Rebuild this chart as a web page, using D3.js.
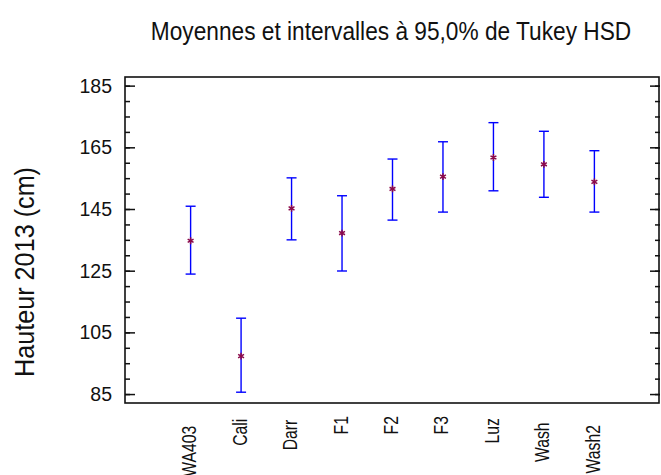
<!doctype html>
<html lang="fr">
<head>
<meta charset="UTF-8">
<title>Tukey HSD</title>
<script src="https://d3js.org/d3.v7.min.js"></script>
<style>
  body { margin: 0; background: #fff; }
  text { font-family: "Liberation Sans", Arial, sans-serif; fill: #111; }
</style>
</head>
<body>
<div class="canvas"></div>
<script>
  // valeurs
  const groups = ['WA403', 'Cali', 'Darr', 'F1', 'F2', 'F3', 'Luz', 'Wash', 'Wash2'];
  const means = [134.7, 97.3, 145.2, 137.2, 151.5, 155.5, 161.7, 159.5, 153.8];
  const lower = [123.9, 85.6, 135.0, 124.9, 141.4, 144.0, 150.9, 148.8, 144.0];
  const upper = [145.9, 109.6, 155.1, 149.3, 161.2, 166.8, 173.0, 170.2, 163.9];
  const yTicks = [85, 105, 125, 145, 165, 185];

  const width = 661, height = 475;
  const plotLeft = 125, plotRight = 660, plotTop = 77, plotBottom = 403;

  const svg = d3.select('.canvas').append('svg')
    .attr('width', width)
    .attr('height', height);

  const x = d3.scalePoint()
    .domain(groups)
    .range([plotLeft, plotRight])
    .padding(1.3);

  const y = d3.scaleLinear()
    .domain([82.1, 187.8])
    .range([plotBottom, plotTop]);

  // titre (police étroite simulée par un scale horizontal)
  svg.append('text')
    .attr('transform', 'translate(391,40) scale(0.89,1)')
    .attr('text-anchor', 'middle')
    .attr('font-size', '25.5px')
    .text('Moyennes et intervalles à 95,0% de Tukey HSD');

  // axe gauche (ticks vers l'intérieur)
  const minor = d3.range(85, 188, 5);
  svg.append('g')
    .attr('transform', `translate(${plotLeft},0)`)
    .call(d3.axisRight(y).tickValues(minor).tickSize(5).tickFormat(''))
    .call(g => g.select('.domain').remove());
  svg.append('g')
    .attr('transform', `translate(${plotLeft},0)`)
    .call(d3.axisRight(y).tickValues(yTicks).tickSize(10).tickFormat(''))
    .call(g => g.select('.domain').remove());
  svg.append('g')
    .selectAll('text')
    .data(yTicks)
    .join('text')
    .attr('x', 112)
    .attr('y', d => y(d))
    .attr('dy', '0.36em')
    .attr('text-anchor', 'end')
    .attr('font-size', '19.5px')
    .text(d => d);

  // axe droit
  svg.append('g')
    .attr('transform', `translate(${plotRight},0)`)
    .call(d3.axisLeft(y).tickValues(minor).tickSize(5).tickFormat(''))
    .call(g => g.select('.domain').remove());
  svg.append('g')
    .attr('transform', `translate(${plotRight},0)`)
    .call(d3.axisLeft(y).tickValues(yTicks).tickSize(10).tickFormat(''))
    .call(g => g.select('.domain').remove());

  svg.selectAll('.tick line').attr('stroke', '#111').attr('stroke-width', 1.5);

  // cadre
  svg.append('rect')
    .attr('x', plotLeft)
    .attr('y', plotTop)
    .attr('width', plotRight - plotLeft - 1)
    .attr('height', plotBottom - plotTop)
    .attr('fill', 'none')
    .attr('stroke', '#111')
    .attr('stroke-width', 1.6);

  // libellés des groupes
  const sx = 0.75;
  svg.append('g')
    .selectAll('text')
    .data(groups)
    .join('text')
    .attr('font-size', '21px')
    .attr('text-anchor', 'end')
    .text(d => d)
    .each(function (d) {
      const len = this.getComputedTextLength() * sx;
      d3.select(this)
        .attr('transform', `translate(${x(d) + 5.5},${410.5 + 0.3 * len}) rotate(-90) scale(${sx},1)`);
    });

  // titre axe y
  svg.append('text')
    .attr('transform', 'translate(34,272) rotate(-90) scale(0.9,1)')
    .attr('text-anchor', 'middle')
    .attr('font-size', '28px')
    .text('Hauteur 2013 (cm)');

  // intervalles
  const bars = svg.append('g')
    .attr('stroke', '#0000ff')
    .attr('stroke-width', 1.4)
    .selectAll('g')
    .data(groups)
    .join('g');

  bars.append('line')
    .attr('x1', d => x(d)).attr('x2', d => x(d))
    .attr('y1', (d, i) => y(lower[i]))
    .attr('y2', (d, i) => y(upper[i]));
  bars.append('line')
    .attr('x1', d => x(d) - 5).attr('x2', d => x(d) + 5)
    .attr('y1', (d, i) => y(upper[i]))
    .attr('y2', (d, i) => y(upper[i]));
  bars.append('line')
    .attr('x1', d => x(d) - 5).attr('x2', d => x(d) + 5)
    .attr('y1', (d, i) => y(lower[i]))
    .attr('y2', (d, i) => y(lower[i]));

  // moyennes
  svg.append('g')
    .selectAll('path')
    .data(groups)
    .join('path')
    .attr('transform', (d, i) => `translate(${x(d)},${y(means[i])})`)
    .attr('d', d3.symbol(d3.symbolAsterisk, 32))
    .attr('fill', 'none')
    .attr('stroke', '#8b0a4a')
    .attr('stroke-width', 1.5);
</script>
</body>
</html>
